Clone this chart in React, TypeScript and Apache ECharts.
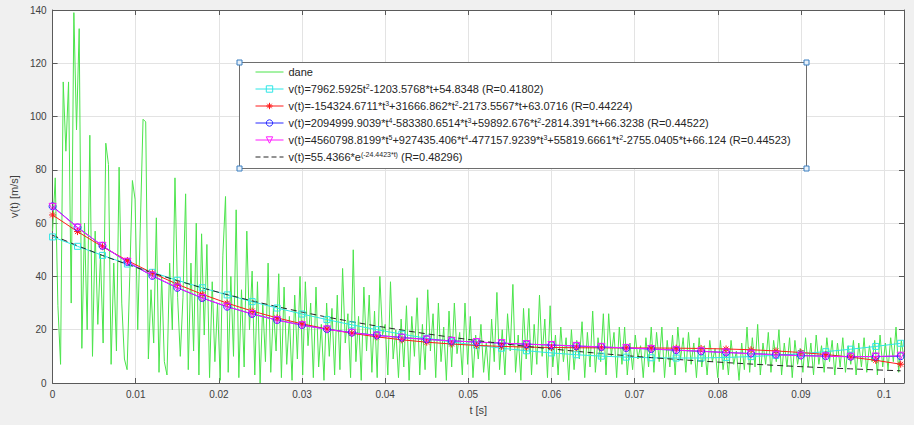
import React, { useEffect, useRef } from "react";
import * as echarts from "echarts";

// ---------------- data ----------------
const DANE_DT = 0.00032; // sampling step of the measured signal [s]
const DANE: number[] = [
  57, 77, 29, 7, 113, 87, 113, 30, 139, 95,
  133, 13, 60, 20, 93, 10, 57, 22, 48, 15,
  90, 82, 7, 45, 12, 81, 30, 9, 5, 40,
  76, 69, 20, 60, 99, 98, 9, 35, 15, 62,
  4, 40, 8, 3, 45, 20, 77, 32, 10, 32,
  71, 5, 45, 12, 60, 3, 56, 18, 52, 2,
  38, 8, 30, 1, 48, 70, 4, 40, 10, 65,
  2, 35, 6, 57, 20, 42, 3, 38, 0, 30,
  8, 45, 4, 28, 12, 41, 2, 36, 7, 25,
  1, 33, 9, 40, 3, 38, 14, 30, 2, 36,
  6, 22, 1, 30, 10, 28, 3, 33, 5, 43,
  15, 26, 2, 50, 8, 25, 1, 36, 12, 33,
  4, 27, 2, 40, 18, 22, 3, 38, 9, 20,
  2, 24, 6, 29, 1, 25, 10, 32, 3, 22,
  5, 35, 12, 26, 2, 30, 8, 21, 1, 27,
  6, 30, 11, 19, 3, 30, 7, 25, 2, 18,
  9, 22, 4, 15, 1, 24, 8, 34, 5, 20,
  3, 26, 12, 37, 4, 18, 1, 28, 9, 28,
  3, 22, 7, 33, 10, 24, 2, 29, 6, 18,
  3, 21, 8, 17, 1, 20, 5, 16, 9, 23,
  2, 19, 6, 27, 4, 17, 8, 26, 3, 26,
  10, 19, 2, 21, 7, 21, 3, 15, 5, 18,
  9, 14, 2, 17, 6, 21, 4, 19, 8, 21,
  2, 16, 6, 18, 3, 21, 9, 17, 4, 19,
  7, 15, 2, 17, 6, 14, 3, 16, 8, 13,
  2, 16, 5, 13, 3, 16, 7, 12, 1, 15,
  5, 21, 4, 17, 6, 22, 3, 15, 7, 19,
  4, 16, 8, 20, 3, 15, 6, 17, 2, 16,
  7, 13, 4, 17, 6, 15, 3, 18, 7, 14,
  4, 17, 8, 16, 3, 15, 6, 17, 4, 14,
  7, 16, 3, 15, 6, 17, 4, 14, 8, 16,
  3, 18, 6, 15, 5, 17, 8, 21, 4, 16,
  9,
];

const FIT_T: number[] = [
  0, 0.003, 0.006, 0.009, 0.012, 0.015, 0.018, 0.021, 0.024, 0.027,
  0.03, 0.033, 0.036, 0.039, 0.042, 0.045, 0.048, 0.051, 0.054, 0.057,
  0.06, 0.063, 0.066, 0.069, 0.072, 0.075, 0.078, 0.081, 0.084, 0.087,
  0.09, 0.093, 0.096, 0.099, 0.102,
];
const FIT_POLY2: number[] = [
  54.83, 51.3, 47.9, 44.65, 41.54, 38.57, 35.75, 33.07, 30.54, 28.14,
  25.89, 23.79, 21.83, 20.01, 18.33, 16.8, 15.41, 14.16, 13.06, 12.1,
  11.29, 10.61, 10.08, 9.7, 9.46, 9.36, 9.4, 9.59, 9.92, 10.39,
  11.01, 11.77, 12.68, 13.72, 14.91,
];
const FIT_POLY3: number[] = [
  63.07, 56.83, 51.14, 45.96, 41.28, 37.07, 33.31, 29.96, 27.01, 24.43,
  22.2, 20.28, 18.66, 17.31, 16.21, 15.32, 14.63, 14.11, 13.74, 13.48,
  13.32, 13.23, 13.19, 13.17, 13.14, 13.08, 12.96, 12.77, 12.47, 12.04,
  11.45, 10.68, 9.71, 8.51, 7.05,
];
const FIT_POLY4: number[] = [
  66.32, 58.4, 51.47, 45.43, 40.21, 35.72, 31.89, 28.64, 25.91, 23.63,
  21.74, 20.19, 18.93, 17.9, 17.07, 16.39, 15.83, 15.36, 14.95, 14.57,
  14.21, 13.86, 13.5, 13.12, 12.73, 12.31, 11.89, 11.46, 11.05, 10.66,
  10.33, 10.07, 9.91, 9.9, 10.06,
];
const FIT_POLY5: number[] = [
  66.12, 58.35, 51.5, 45.51, 40.3, 35.8, 31.94, 28.66, 25.9, 23.6,
  21.69, 20.13, 18.86, 17.83, 17.01, 16.35, 15.81, 15.36, 14.97, 14.61,
  14.27, 13.93, 13.57, 13.18, 12.78, 12.35, 11.9, 11.44, 11.0, 10.59,
  10.24, 9.99, 9.87, 9.94, 10.24,
];
const FIT_EXP: number[] = [
  55.44, 51.52, 47.87, 44.49, 41.34, 38.42, 35.7, 33.18, 30.83, 28.65,
  26.63, 24.75, 23.0, 21.37, 19.86, 18.45, 17.15, 15.94, 14.81, 13.76,
  12.79, 11.89, 11.05, 10.26, 9.54, 8.86, 8.24, 7.66, 7.11, 6.61,
  6.14, 5.71, 5.31, 4.93, 4.58,
];

const SERIES_NAMES: string[] = [
  "dane",
  "v(t)=7962.5925t^{2}-1203.5768*t+54.8348 (R=0.41802)",
  "v(t)=-154324.6711*t^{3}+31666.862*t^{2}-2173.5567*t+63.0716 (R=0.44224)",
  "v(t)=2094999.9039*t^{4}-583380.6514*t^{3}+59892.676*t^{2}-2814.391*t+66.3238 (R=0.44522)",
  "v(t)=4560798.8199*t^{5}+927435.406*t^{4}-477157.9239*t^{3}+55819.6661*t^{2}-2755.0405*t+66.124 (R=0.44523)",
  "v(t)=55.4366*e^{(-24.4423*t)} (R=0.48296)",
];

const X_MIN = 0;
const X_MAX = 0.1024;
const X_STEP = 0.01;
const Y_MIN = 0;
const Y_MAX = 140;
const Y_STEP = 20;
const X_NAME = "t [s]";
const Y_NAME = "v(t) [m/s]";

// ---------------- styles ----------------
const FONT = "'Liberation Sans', Arial, Helvetica, sans-serif";
const AXIS_COLOR = "#5a5a5a";
const LABEL_COLOR = "#404040";
const GRID_COLOR = "#e3e3e3";
const GREEN = "#4be44b";
const CYAN = "#2ee6e6";
const RED = "#ff1a1a";
const BLUE = "#2a2aff";
const MAGENTA = "#ff1aff";
const BLACK = "#262626";
const CLEAR = "rgba(255,255,255,0)";
const ASTERISK = "path://M5,0L5,10M0,5L10,5M1.5,1.5L8.5,8.5M1.5,8.5L8.5,1.5";
const SERIES_COLORS = [GREEN, CYAN, RED, BLUE, MAGENTA, BLACK];

const toRich = (name: string) => name.replace(/\^\{([^}]*)\}/g, (_m, s) => `{sup|${s}}`);
const fmtTick = (v: number) => String(parseFloat(v.toFixed(3)));

export default function App() {
  const ref = useRef<HTMLDivElement>(null);

  useEffect(() => {
    document.body.style.margin = "0";
    const el = ref.current;
    if (!el) return;
    const chart = echarts.init(el, null, { renderer: "svg" });

    const pairs = (xs: number[], ys: number[]) => xs.map((x, i) => [x, ys[i]]);
    const danePairs = DANE.map((v, i) => [parseFloat((i * DANE_DT).toFixed(6)), v]);

    const fitSeries = (
      name: string,
      ys: number[],
      color: string,
      symbol: string,
      extra: any = {}
    ) => ({
      type: "line",
      name,
      data: pairs(FIT_T, ys),
      symbol,
      symbolSize: 7,
      showAllSymbol: true,
      lineStyle: { color, width: 1 },
      itemStyle: { color: CLEAR, borderColor: color, borderWidth: 1 },
      emphasis: { disabled: true },
      silent: true,
      ...extra,
    });

    const baseX = { type: "value", min: X_MIN, max: X_MAX, interval: X_STEP };
    const baseY = { type: "value", min: Y_MIN, max: Y_MAX, interval: Y_STEP };
    const lineStyle = { color: AXIS_COLOR, width: 1 };

    const legendData = SERIES_NAMES.map((name, i) => {
      const c = SERIES_COLORS[i];
      const noSymbol = i === 0 || i === 5;
      return {
        name,
        lineStyle: { color: c, width: 1, type: i === 5 ? [5, 3] : "solid" },
        itemStyle: noSymbol
          ? { color: CLEAR, borderColor: CLEAR, borderWidth: 0, opacity: 0 }
          : { color: CLEAR, borderColor: c, borderWidth: 1 },
      };
    });

    const option: any = {
      animation: false,
      backgroundColor: "#f0f0f0",
      grid: {
        left: 43,
        right: 10,
        top: 10,
        bottom: 42,
        show: true,
        backgroundColor: "#ffffff",
        borderWidth: 0,
      },
      xAxis: [
        {
          ...baseX,
          position: "bottom",
          name: X_NAME,
          nameLocation: "middle",
          nameGap: 21,
          nameTextStyle: { fontFamily: FONT, fontSize: 11, color: LABEL_COLOR },
          axisLine: { show: true, onZero: false, lineStyle },
          axisTick: { show: true, inside: true, length: 5, lineStyle },
          axisLabel: {
            formatter: fmtTick,
            showMaxLabel: false,
            fontFamily: FONT,
            fontSize: 10,
            color: LABEL_COLOR,
            margin: 6,
          },
          splitLine: { show: true, lineStyle: { color: GRID_COLOR, width: 1 } },
        },
        {
          ...baseX,
          position: "top",
          axisLine: { show: true, onZero: false, lineStyle },
          axisTick: { show: true, inside: true, length: 5, lineStyle },
          axisLabel: { show: false },
          splitLine: { show: false },
        },
      ],
      yAxis: [
        {
          ...baseY,
          position: "left",
          name: Y_NAME,
          nameLocation: "middle",
          nameGap: 26,
          nameTextStyle: { fontFamily: FONT, fontSize: 11, color: LABEL_COLOR },
          axisLine: { show: true, onZero: false, lineStyle },
          axisTick: { show: true, inside: true, length: 5, lineStyle },
          axisLabel: { fontFamily: FONT, fontSize: 10, color: LABEL_COLOR, margin: 6 },
          splitLine: { show: true, lineStyle: { color: GRID_COLOR, width: 1 } },
        },
        {
          ...baseY,
          position: "right",
          axisLine: { show: true, onZero: false, lineStyle },
          axisTick: { show: true, inside: true, length: 5, lineStyle },
          axisLabel: { show: false },
          splitLine: { show: false },
        },
      ],
      legend: {
        orient: "vertical",
        left: 255,
        top: 66,
        padding: 0,
        itemWidth: 28,
        itemHeight: 8,
        itemGap: 5,
        z: 20,
        selectedMode: false,
        data: legendData,
        formatter: toRich,
        textStyle: {
          fontFamily: FONT,
          fontSize: 11,
          color: "#262626",
          lineHeight: 12,
          rich: {
            sup: {
              fontFamily: FONT,
              fontSize: 7,
              color: "#262626",
              lineHeight: 6,
              verticalAlign: "top",
            },
          },
        },
      },
      graphic: [
        {
          type: "rect",
          z: 10,
          silent: true,
          shape: { x: 239.5, y: 62.5, width: 567, height: 106 },
          style: { fill: "#ffffff", stroke: "#6e6e6e", lineWidth: 1 },
        },
        ...[
          [239.5, 62.5],
          [806.5, 62.5],
          [239.5, 168.5],
          [806.5, 168.5],
        ].map(([cx, cy]) => ({
          type: "rect",
          z: 30,
          silent: true,
          shape: { x: cx - 2.5, y: cy - 2.5, width: 5, height: 5 },
          style: { fill: "#e8f1fa", stroke: "#3a7fc0", lineWidth: 1 },
        })),
      ],
      series: [
        {
          type: "line",
          name: SERIES_NAMES[0],
          data: danePairs,
          symbol: "none",
          showSymbol: false,
          lineStyle: { color: GREEN, width: 1 },
          itemStyle: { color: GREEN },
          emphasis: { disabled: true },
          silent: true,
        },
        fitSeries(SERIES_NAMES[1], FIT_POLY2, CYAN, "rect", { symbolSize: 6 }),
        fitSeries(SERIES_NAMES[2], FIT_POLY3, RED, ASTERISK),
        fitSeries(SERIES_NAMES[3], FIT_POLY4, BLUE, "circle"),
        fitSeries(SERIES_NAMES[4], FIT_POLY5, MAGENTA, "triangle", { symbolRotate: 180 }),
        {
          type: "line",
          name: SERIES_NAMES[5],
          data: pairs(FIT_T, FIT_EXP),
          symbol: "none",
          showSymbol: false,
          lineStyle: { color: BLACK, width: 1, type: [6, 4] },
          itemStyle: { color: BLACK },
          emphasis: { disabled: true },
          silent: true,
        },
      ],
    };

    chart.setOption(option);
    return () => {
      chart.dispose();
    };
  }, []);

  return (
    <div
      ref={ref}
      style={{ position: "fixed", left: 0, top: 0, width: 914, height: 425 }}
    />
  );
}
